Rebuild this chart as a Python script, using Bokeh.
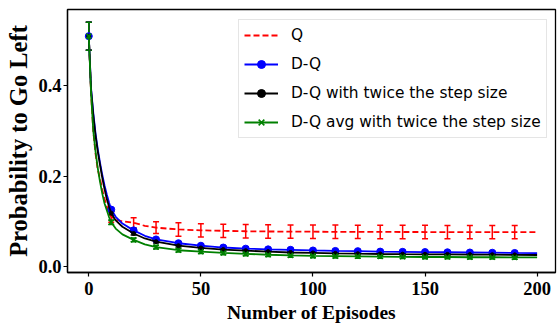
from bokeh.plotting import figure
from bokeh.models import (ColumnDataSource, Whisker, TeeHead, Legend, LegendItem,
                          FixedTicker, Range1d)
from bokeh.embed import file_html
from bokeh.resources import INLINE

# ---------------- data ----------------
episodes = [0, 1, 2, 3, 4, 5, 6, 7, 8, 9, 10, 12, 15, 20, 25, 30,
            40, 50, 60, 70, 80, 90, 100, 110, 120, 130, 140, 150, 160, 170, 180, 190, 200]

q_vals = [0.510, 0.385, 0.300, 0.250, 0.215, 0.195, 0.170, 0.150, 0.133, 0.120, 0.110, 0.104, 0.100,
          0.097, 0.090, 0.086, 0.082, 0.080, 0.079, 0.078, 0.0775, 0.0773, 0.077, 0.0768, 0.0766,
          0.0765, 0.0764, 0.0763, 0.0762, 0.0761, 0.0760, 0.0760, 0.0760]
dq_vals = [0.510, 0.395, 0.340, 0.295, 0.260, 0.230, 0.203, 0.180, 0.160, 0.142, 0.126, 0.110, 0.095,
           0.080, 0.068, 0.060, 0.0515, 0.046, 0.042, 0.0395, 0.038, 0.037, 0.0355, 0.0345, 0.034,
           0.033, 0.0325, 0.032, 0.0315, 0.031, 0.0305, 0.030, 0.0298]
dq2_vals = [0.510, 0.392, 0.335, 0.290, 0.255, 0.225, 0.197, 0.172, 0.150, 0.133, 0.118, 0.102, 0.088,
            0.073, 0.062, 0.055, 0.046, 0.041, 0.0375, 0.035, 0.033, 0.031, 0.030, 0.029, 0.0283,
            0.0277, 0.0272, 0.027, 0.0267, 0.0264, 0.0261, 0.0258, 0.0255]
dqavg_vals = [0.510, 0.385, 0.300, 0.255, 0.218, 0.188, 0.162, 0.140, 0.125, 0.110, 0.098, 0.084, 0.071,
              0.059, 0.049, 0.043, 0.036, 0.033, 0.030, 0.028, 0.026, 0.0245, 0.0235, 0.023, 0.0225,
              0.022, 0.0215, 0.021, 0.021, 0.0205, 0.0205, 0.020, 0.020]

mark_episodes = [0, 10, 20, 30, 40, 50, 60, 70, 80, 90, 100, 110, 120, 130, 140, 150, 160, 170, 180, 190]
q_err = [0.031, 0.012, 0.011, 0.013, 0.0148, 0.0148, 0.0148, 0.0148, 0.0148, 0.0148,
         0.0148, 0.0148, 0.0148, 0.0148, 0.0148, 0.0148, 0.0148, 0.0148, 0.0148, 0.0148]
dq_err = [0.031, 0.004, 0.003, 0.003, 0.003, 0.003, 0.003, 0.003, 0.003, 0.003,
          0.003, 0.003, 0.003, 0.003, 0.003, 0.003, 0.003, 0.003, 0.003, 0.003]
dq2_err = [0.031, 0.004, 0.003, 0.003, 0.003, 0.003, 0.003, 0.003, 0.003, 0.003,
           0.003, 0.003, 0.003, 0.003, 0.003, 0.003, 0.003, 0.003, 0.003, 0.003]
dqavg_err = [0.031, 0.005, 0.004, 0.004, 0.004, 0.004, 0.004, 0.004, 0.004, 0.004,
             0.004, 0.004, 0.004, 0.004, 0.004, 0.004, 0.004, 0.004, 0.004, 0.004]

labels = ["Q", "D-Q", "D-Q with twice the step size", "D-Q avg with twice the step size"]
colors = ["red", "blue", "black", "green"]

x_ticks = [0, 50, 100, 150, 200]
y_ticks = [0.0, 0.2, 0.4]
y_tick_labels = ["0.0", "0.2", "0.4"]

# ---------------- figure ----------------
p = figure(width=557, height=327, output_backend="svg", toolbar_location=None,
           x_range=Range1d(-9.5, 208.2), y_range=Range1d(-0.0133, 0.569),
           min_border_left=67, min_border_right=2, min_border_top=9, min_border_bottom=55)
p.background_fill_color = "white"
p.border_fill_color = "white"
p.grid.visible = False
p.outline_line_color = "black"
p.outline_line_width = 1.3

serif = "Liberation Serif"
for ax in (p.xaxis[0], p.yaxis[0]):
    ax.axis_line_color = "black"
    ax.axis_line_width = 1.3
    ax.major_tick_line_color = "black"
    ax.major_tick_line_width = 1.2
    ax.major_tick_out = 4
    ax.major_tick_in = 0
    ax.minor_tick_line_color = None
    ax.major_label_text_font = serif
    ax.major_label_text_font_style = "bold"
    ax.major_label_text_font_size = "18.5px"
    ax.major_label_text_color = "black"
    ax.axis_label_text_font = serif
    ax.axis_label_text_font_style = "bold"
    ax.axis_label_text_color = "black"

p.xaxis.ticker = FixedTicker(ticks=x_ticks)
p.yaxis.ticker = FixedTicker(ticks=y_ticks)
p.yaxis.major_label_overrides = {t: l for t, l in zip(y_ticks, y_tick_labels)}
p.xaxis.axis_label = "Number of Episodes"
p.yaxis.axis_label = "Probability to Go Left"
p.xaxis.axis_label_text_font_size = "19.5px"
p.yaxis.axis_label_text_font_size = "24.5px"
p.xaxis.major_label_standoff = 5
p.xaxis.axis_label_standoff = 4
p.yaxis.major_label_standoff = 2
p.yaxis.axis_label_standoff = 3

series = [
    (q_vals, q_err, dict(line_dash="6 3"), None),
    (dq_vals, dq_err, {}, dict(marker="circle", size=7)),
    (dq2_vals, dq2_err, {}, dict(marker="circle", size=4)),
    (dqavg_vals, dqavg_err, {}, dict(marker="x", size=7, line_width=1.6)),
]

items = []
for (vals, err, lkw, mkw), label, color in zip(series, labels, colors):
    lsrc = ColumnDataSource(dict(x=episodes, y=vals))
    idx = [episodes.index(e) for e in mark_episodes]
    my = [vals[i] for i in idx]
    msrc = ColumnDataSource(dict(x=mark_episodes, y=my,
                                 upper=[v + e for v, e in zip(my, err)],
                                 lower=[v - e for v, e in zip(my, err)]))
    r_line = p.line("x", "y", source=lsrc, line_color=color, line_width=1.8, **lkw)
    w = Whisker(base="x", upper="upper", lower="lower", source=msrc,
                line_color=color, line_width=1.5,
                upper_head=TeeHead(size=6, line_color=color, line_width=1.5),
                lower_head=TeeHead(size=6, line_color=color, line_width=1.5))
    p.add_layout(w)
    rends = [r_line]
    if mkw is not None:
        r_m = p.scatter("x", "y", source=msrc, fill_color=color, line_color=color, **mkw)
        rends.append(r_m)
    items.append(LegendItem(label=label, renderers=rends))

legend = Legend(items=items, location=(171, 134))
legend.label_text_font = "DejaVu Sans"
legend.label_text_font_size = "15.4px"
legend.label_text_color = "black"
legend.glyph_width = 34
legend.glyph_height = 20
legend.label_height = 20
legend.label_standoff = 13
legend.spacing = 9
legend.padding = 5
legend.border_line_color = "#cccccc"
legend.border_line_width = 1
legend.background_fill_color = "white"
legend.background_fill_alpha = 0.85
p.add_layout(legend, "center")

open("out.html", "w").write(file_html(p, INLINE))
